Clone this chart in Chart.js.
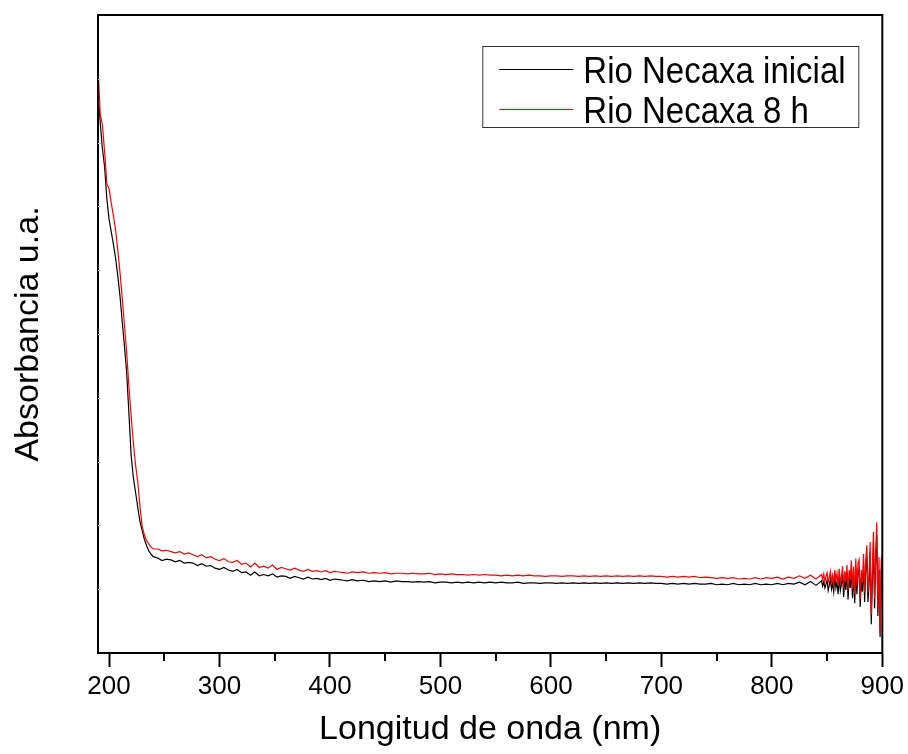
<!DOCTYPE html>
<html>
<head>
<meta charset="utf-8">
<script src="https://cdn.jsdelivr.net/npm/chart.js@4.4.1/dist/chart.umd.min.js"></script>
<style>
  html, body { margin: 0; padding: 0; background: #fff; }
  #wrap { width: 908px; height: 754px; }
</style>
</head>
<body>
<div id="wrap"><canvas id="uvChart" width="908" height="754"></canvas></div>
<script>
// wavelength (nm)
const wavelength = [
  190, 192, 194, 196, 198, 200, 202, 204, 206, 208, 210, 212, 214, 216, 218, 220, 222, 224, 226, 228, 230, 232, 234, 236, 238, 240,
  244, 248, 252, 256, 260, 264, 268, 272, 276, 280, 284, 288, 292, 296, 300, 304, 308, 312, 316, 320, 324, 328, 332, 336, 340, 344,
  348, 352, 356, 360, 364, 368, 372, 376, 380, 384, 388, 392, 396, 400, 404, 408, 412, 416, 420,
  425, 430, 435, 440, 445, 450, 455, 460, 465, 470, 475, 480, 485, 490, 495, 500, 505, 510, 515, 520, 525, 530, 535, 540, 545, 550,
  555, 560, 565, 570, 575, 580, 585, 590, 595, 600, 605, 610, 615, 620, 625, 630, 635, 640, 645, 650, 655, 660, 665, 670, 675, 680,
  685, 690, 695, 700, 705, 710, 715, 720, 725, 730, 735, 740, 745, 750, 755, 760, 765, 770, 775, 780, 785, 790, 795, 800, 805, 810,
  815, 820, 825, 830, 835, 840, 845,
  846, 847, 848, 849, 850, 851, 852, 853, 854, 855, 856, 857, 858, 859, 860, 861, 862, 863, 864, 865, 866, 867, 868, 869, 870, 871,
  872, 873, 874, 875, 876, 877, 878, 879, 880, 881, 882, 883, 884, 885, 886, 887, 888, 889, 890, 891, 892, 893, 894, 895, 896, 897,
  898, 899, 900
];

// Rio Necaxa inicial (u.a.)
const inicial = [
  8.85, 8.32, 7.90, 7.62, 7.12, 6.80, 6.60, 6.40, 6.18, 5.90, 5.58, 5.18, 4.80, 4.38, 3.75, 3.10, 2.75, 2.52, 2.28, 2.06, 1.92, 1.78, 1.68, 1.60, 1.55, 1.51,
  1.49, 1.45, 1.47, 1.46, 1.43, 1.45, 1.41, 1.42, 1.41, 1.37, 1.40, 1.36, 1.37, 1.33, 1.31, 1.34, 1.30, 1.28, 1.31, 1.26, 1.27, 1.22,
  1.27, 1.21, 1.23, 1.21, 1.24, 1.19, 1.21, 1.20, 1.17, 1.20, 1.18, 1.16, 1.19, 1.16, 1.17, 1.15, 1.17, 1.14, 1.16, 1.15, 1.14, 1.13, 1.15,
  1.13, 1.14, 1.12, 1.13, 1.12, 1.13, 1.11, 1.13, 1.12, 1.12, 1.11, 1.12, 1.11, 1.12, 1.10, 1.11, 1.11, 1.10, 1.11, 1.10, 1.11, 1.10,
  1.11, 1.10, 1.11, 1.10, 1.11, 1.10, 1.10, 1.11, 1.09, 1.10, 1.10, 1.09, 1.10, 1.10, 1.09, 1.10, 1.09, 1.10, 1.09, 1.10, 1.09, 1.10,
  1.09, 1.10, 1.09, 1.10, 1.09, 1.10, 1.09, 1.10, 1.09, 1.10, 1.09, 1.09, 1.08, 1.09, 1.08, 1.09, 1.08, 1.09, 1.08, 1.08, 1.09, 1.07,
  1.08, 1.07, 1.09, 1.07, 1.08, 1.07, 1.09, 1.07, 1.08, 1.07, 1.09, 1.07, 1.09, 1.08, 1.11, 1.07, 1.12, 1.06, 1.13,
  1.05, 1.12, 1.02, 1.08, 1.14, 0.98, 1.06, 1.16, 1.00, 1.10, 0.96, 1.18, 1.02, 1.12, 0.92, 1.20, 0.98, 1.08, 1.24, 0.88, 1.15, 0.99,
  1.26, 0.84, 1.18, 1.02, 1.32, 0.86, 1.22, 0.78, 1.34, 0.92, 1.28, 1.32, 0.72, 1.16, 0.96, 1.40, 0.80, 1.30, 1.52, 0.80, 1.08, 1.58,
  0.45, 1.15, 1.72, 0.70, 1.45, 1.85, 0.58, 1.30, 0.25, 1.30, 1.40
];

// Rio Necaxa 8 h (u.a.)
const ochoHoras = [
  9.20, 8.45, 8.28, 7.85, 7.35, 7.28, 7.05, 6.85, 6.62, 6.30, 5.95, 5.55, 5.13, 4.70, 4.17, 3.72, 3.30, 2.95, 2.68, 2.30, 1.98, 1.85, 1.76, 1.71, 1.66, 1.63,
  1.63, 1.60, 1.61, 1.59, 1.57, 1.59, 1.55, 1.57, 1.54, 1.51, 1.54, 1.49, 1.51, 1.47, 1.45, 1.48, 1.43, 1.42, 1.45, 1.39, 1.41, 1.35,
  1.41, 1.34, 1.36, 1.33, 1.38, 1.31, 1.34, 1.32, 1.30, 1.33, 1.30, 1.28, 1.31, 1.28, 1.29, 1.27, 1.29, 1.26, 1.28, 1.27, 1.26, 1.25, 1.27,
  1.26, 1.27, 1.25, 1.26, 1.25, 1.26, 1.24, 1.25, 1.25, 1.24, 1.25, 1.24, 1.24, 1.25, 1.23, 1.24, 1.23, 1.24, 1.23, 1.23, 1.22, 1.23,
  1.22, 1.23, 1.22, 1.22, 1.21, 1.22, 1.21, 1.22, 1.21, 1.22, 1.21, 1.21, 1.20, 1.21, 1.21, 1.20, 1.21, 1.21, 1.20, 1.21, 1.20, 1.21,
  1.20, 1.21, 1.20, 1.21, 1.20, 1.21, 1.20, 1.21, 1.20, 1.21, 1.20, 1.20, 1.19, 1.20, 1.19, 1.20, 1.19, 1.20, 1.18, 1.19, 1.18, 1.17,
  1.18, 1.17, 1.18, 1.16, 1.17, 1.16, 1.18, 1.16, 1.18, 1.17, 1.19, 1.16, 1.19, 1.17, 1.21, 1.17, 1.22, 1.16, 1.23,
  1.15, 1.24, 1.12, 1.20, 1.26, 1.10, 1.18, 1.28, 1.12, 1.22, 1.08, 1.30, 1.14, 1.25, 1.05, 1.32, 1.10, 1.20, 1.36, 1.02, 1.28, 1.12,
  1.38, 0.98, 1.30, 1.15, 1.45, 1.00, 1.35, 0.92, 1.48, 1.05, 1.40, 1.46, 0.85, 1.30, 1.10, 1.55, 0.95, 1.45, 1.69, 0.95, 1.20, 1.74,
  0.60, 1.30, 1.90, 0.85, 1.60, 2.05, 0.72, 1.50, 0.31, 1.45, 1.55
];

const xTicks = [200, 300, 400, 500, 600, 700, 800, 900];
const xMinorTicks = [250, 350, 450, 550, 650, 750, 850];
const seriesNames = ['Rio Necaxa inicial', 'Rio Necaxa 8 h'];
const seriesColors = ['#000000', '#ff0000'];

const FONT = "'Liberation Sans', Arial, sans-serif";

function toPoints(vals) {
  return wavelength.map((w, i) => ({ x: w, y: vals[i] }));
}

// frame, minor ticks, faint y ticks and the boxed legend
const framePlugin = {
  id: 'frame',
  afterDraw(chart) {
    const { ctx, chartArea: a, scales } = chart;
    ctx.save();
    ctx.strokeStyle = '#000';
    ctx.lineWidth = 2;
    ctx.strokeRect(a.left, a.top, a.right - a.left, a.bottom - a.top);

    xMinorTicks.forEach(v => {
      const px = Math.round(scales.x.getPixelForValue(v));
      ctx.beginPath();
      ctx.moveTo(px, a.bottom);
      ctx.lineTo(px, a.bottom + 8);
      ctx.stroke();
    });

    ctx.strokeStyle = '#c8c8c8';
    ctx.lineWidth = 1;
    for (let v = 1; v < 10; v++) {
      const py = Math.round(scales.y.getPixelForValue(v)) + 0.5;
      ctx.beginPath();
      ctx.moveTo(a.left, py);
      ctx.lineTo(a.left + 3, py);
      ctx.stroke();
    }

    // legend, entries in series order
    const bx = a.right - 24, by = a.top + 31;
    const bw = 376, bh = 81;
    ctx.strokeStyle = '#333';
    ctx.lineWidth = 1;
    ctx.strokeRect(bx - bw + 0.5, by + 0.5, bw, bh);
    ctx.textBaseline = 'alphabetic';
    ctx.fillStyle = '#000';
    seriesNames.forEach((name, i) => {
      const ly = by + 23 + i * 40;
      ctx.strokeStyle = seriesColors[i];
      ctx.beginPath();
      ctx.moveTo(bx - bw + 17, ly + 0.5);
      ctx.lineTo(bx - bw + 91, ly + 0.5);
      ctx.stroke();
      ctx.save();
      ctx.translate(bx - bw + 101, ly + 14);
      ctx.scale(1, 1.13);
      ctx.font = '33px ' + FONT;
      ctx.fillText(name, 0, 0);
      ctx.restore();
    });
    ctx.restore();
  }
};

// red drawn on top, as in the reference
new Chart(document.getElementById('uvChart'), {
  type: 'line',
  data: {
    datasets: seriesNames.map((name, i) => ({
      label: name,
      data: toPoints(i === 0 ? inicial : ochoHoras),
      borderColor: seriesColors[i],
      borderWidth: 1.2,
      pointRadius: 0,
      tension: 0,
      fill: false
    })).reverse()
  },
  options: {
    responsive: false,
    animation: false,
    events: [],
    layout: { padding: { left: 0, right: 23, top: 15, bottom: 0 } },
    plugins: { legend: { display: false }, tooltip: { enabled: false } },
    scales: {
      x: {
        type: 'linear',
        min: 190,
        max: 900,
        afterBuildTicks: s => { s.ticks = xTicks.map(v => ({ value: v })); },
        afterFit: s => { s.height = 101; },
        border: { display: true, color: '#000', width: 2 },
        grid: { drawOnChartArea: false, drawTicks: true, tickLength: 14, tickWidth: 2, tickColor: '#000' },
        ticks: { color: '#000', padding: 4, maxRotation: 0, font: { family: FONT, size: 26 } },
        title: { display: true, text: 'Longitud de onda (nm)', color: '#000', padding: { top: 0, bottom: 4 }, font: { family: FONT, size: 34 } }
      },
      y: {
        min: 0,
        max: 10,
        afterFit: s => { s.width = 98; },
        border: { display: true, color: '#000', width: 2 },
        grid: { display: false },
        ticks: { display: false },
        title: { display: true, text: 'Absorbancia u.a.', color: '#000', padding: { top: 8, bottom: 0 }, font: { family: FONT, size: 34 } }
      }
    }
  },
  plugins: [framePlugin]
});
</script>
</body>
</html>
